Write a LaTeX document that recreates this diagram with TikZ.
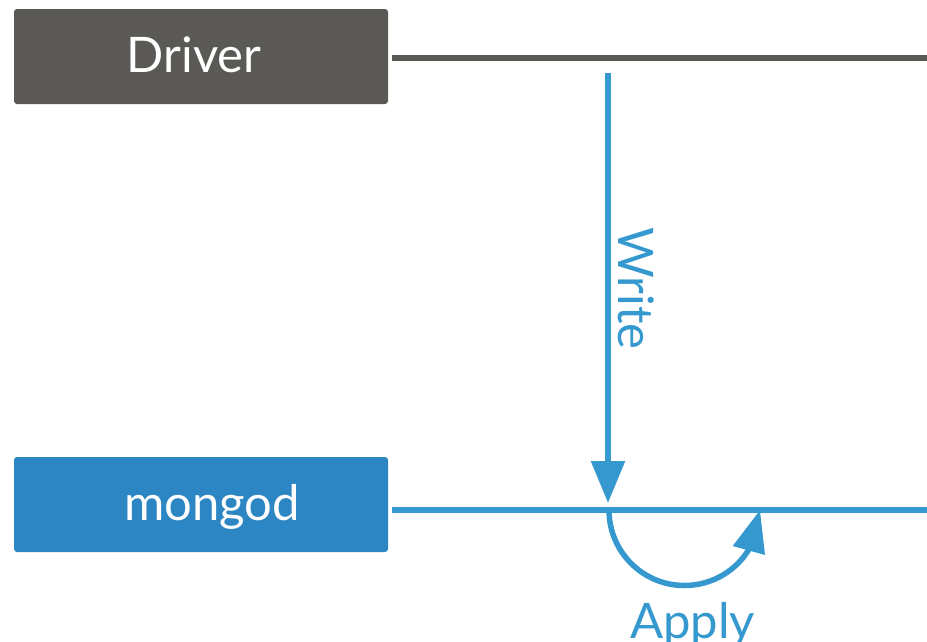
\documentclass[tikz,border=0pt]{standalone}
\usepackage{fontspec}
\setmainfont{Lato}
\usetikzlibrary{arrows.meta,bending}
\definecolor{drvgray}{HTML}{5B5955}
\definecolor{mgblue}{HTML}{2B86C3}
\definecolor{lnblue}{HTML}{3599CF}
\tikzset{
  box/.style={rectangle, rounded corners=3pt, minimum width=374pt, minimum height=95pt, inner sep=0pt, draw=none},
  boxtext/.style={text=white, anchor=base, inner sep=0pt, font=\fontsize{49}{55}\selectfont},
  bluetext/.style={text=lnblue, anchor=base, inner sep=0pt, font=\fontsize{49}{55}\selectfont},
  timeline/.style={line width=5.5pt},
}
\begin{document}
\begin{tikzpicture}[x=1pt,y=-1pt]
\useasboundingbox[fill=white] (0,0) rectangle (927,641);
% boxes
\node[box, fill=drvgray] (driver) at (201,56.5) {};
\node[box, fill=mgblue] (mongod) at (201,504.5) {};
\node[boxtext] (drivertxt) at (194,72) {Driver};
\node[boxtext] (mongodtxt) at (212,520) {mongod};
% timelines
\coordinate (d0) at (392,58);
\coordinate (d1) at (927,58);
\coordinate (m0) at (392,510);
\coordinate (m1) at (927,510);
\draw[timeline, drvgray] (d0) -- (d1);
\draw[timeline, lnblue] (m0) -- (m1);
% write arrow
\coordinate (w0) at (608,73);
\coordinate (w1) at (608,503);
\draw[lnblue, line width=5.5pt, -{Triangle[length=42pt,width=33pt]}] (w0) -- (w1);
\node[bluetext, rotate=-90] (write) at (618,288.5) {Write};
% apply arc
\coordinate (a0) at (609,510);
\draw[lnblue, line width=5.5pt, -{Triangle[length=42pt,width=32pt,flex]}] (a0) arc (180:0:75.5);
\node[bluetext] (apply) at (692.5,638) {Apply};
\end{tikzpicture}
\end{document}
